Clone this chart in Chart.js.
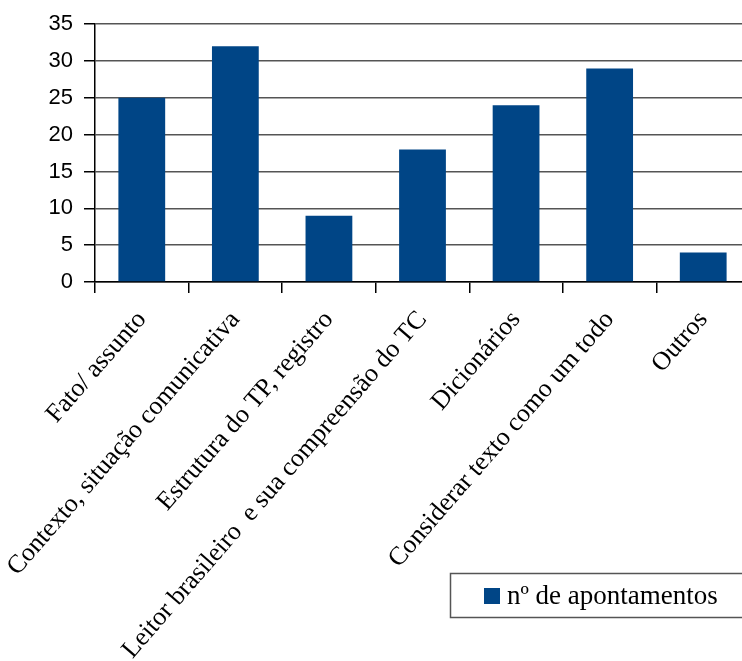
<!DOCTYPE html>
<html>
<head>
<meta charset="utf-8">
<script src="https://cdn.jsdelivr.net/npm/chart.js@4/dist/chart.umd.min.js"></script>
<style>
    body { margin: 0; background: #fff; overflow: hidden; }
    canvas { display: block; }
</style>
</head>
<body>
<canvas id="chart" width="752" height="661"></canvas>
<script>
// Data
const categories = [
    'Fato/ assunto',
    'Contexto, situação comunicativa',
    'Estrutura do TP, registro',
    'Leitor brasileiro  e sua compreensão do TC',
    'Dicionários',
    'Considerar texto como um todo',
    'Outros'
];
const apontamentos = [25, 32, 9, 18, 24, 29, 4];
const seriesLabel = 'nº de apontamentos';
const yTicks = [0, 5, 10, 15, 20, 25, 30, 35];

const barColor = '#004586';
const serif = "'Liberation Serif', 'Times New Roman', serif";
const sans = "'Liberation Sans', Arial, sans-serif";

// Boxed legend drawn in the lower right
const boxedLegend = {
    id: 'boxedLegend',
    afterDraw(chart) {
        const ctx = chart.ctx;
        const ds = chart.data.datasets[0];
        ctx.save();
        ctx.strokeStyle = '#555';
        ctx.lineWidth = 1.5;
        ctx.strokeRect(450.5, 573.5, 310, 44);
        ctx.fillStyle = ds.backgroundColor;
        ctx.fillRect(484, 588, 16, 16);
        ctx.fillStyle = '#000';
        ctx.font = '27px ' + serif;
        ctx.textBaseline = 'middle';
        ctx.fillText(ds.label, 507, 597);
        ctx.restore();
    }
};

new Chart(document.getElementById('chart'), {
    type: 'bar',
    data: {
        labels: categories,
        datasets: [{
            label: seriesLabel,
            data: apontamentos,
            backgroundColor: barColor,
            borderWidth: 0,
            barPercentage: 0.5,
            categoryPercentage: 1
        }]
    },
    options: {
        responsive: false,
        animation: false,
        layout: { padding: { top: 23, right: 2, left: 0, bottom: 0 } },
        plugins: {
            legend: { display: false },
            tooltip: { enabled: false }
        },
        scales: {
            x: {
                afterFit: (s) => { s.height = 379; },
                border: { color: '#000', width: 1.5 },
                grid: {
                    drawOnChartArea: false,
                    drawTicks: true,
                    tickLength: 11,
                    tickColor: '#000',
                    lineWidth: 1.5
                },
                ticks: {
                    minRotation: 49,
                    maxRotation: 49,
                    autoSkip: false,
                    padding: 12,
                    color: '#000',
                    font: { family: serif, size: 26 }
                }
            },
            y: {
                min: 0,
                max: 35,
                afterFit: (s) => { s.width = 95; },
                afterBuildTicks: (s) => { s.ticks = yTicks.map(v => ({ value: v })); },
                border: { color: '#000', width: 1.5 },
                grid: {
                    color: '#555',
                    lineWidth: 1.5,
                    tickLength: 11,
                    tickColor: '#000'
                },
                ticks: {
                    padding: 11,
                    color: '#000',
                    font: { family: sans, size: 22 }
                }
            }
        }
    },
    plugins: [boxedLegend]
});
</script>
</body>
</html>
